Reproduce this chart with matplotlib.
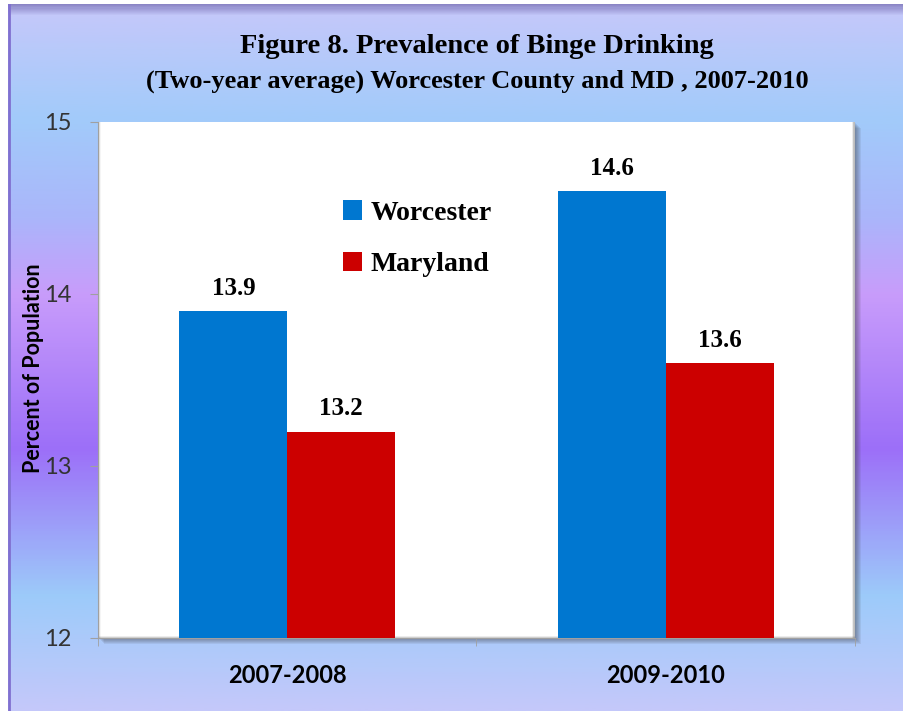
import matplotlib
matplotlib.use("Agg")
import matplotlib.pyplot as plt
import numpy as np
from matplotlib.colors import LinearSegmentedColormap
from matplotlib.patches import Rectangle

# datos
periodos = ["2007-2008", "2009-2010"]
worcester = [13.9, 14.6]
maryland = [13.2, 13.6]
series = ["Worcester", "Maryland"]
y_ticks = [12, 13, 14, 15]

azul = "#0077D0"
rojo = "#CC0000"
serif = ["Liberation Serif", "DejaVu Serif"]
sans = ["Lato", "DejaVu Sans"]

fig = plt.figure(figsize=(9.04, 7.11), dpi=100)
fig.patch.set_facecolor("white")

# fondo degradado del grafico
fondo = fig.add_axes([8 / 904, 0, 1 - 8 / 904, 1 - 4 / 711], zorder=0)
fondo.set_axis_off()
cmap = LinearSegmentedColormap.from_list("fondo", [
    (0.00, "#C6C8FA"),
    (0.16, "#A2CBFA"),
    (0.30, "#AAB6FA"),
    (0.41, "#C89CFB"),
    (0.63, "#9C6FF8"),
    (0.84, "#9DCBFA"),
    (1.00, "#C4C8FA"),
])
grad = np.linspace(0, 1, 400).reshape(-1, 1)
fondo.imshow(grad, aspect="auto", cmap=cmap, extent=[0, 1, 0, 1], origin="upper")
# sombra superior y borde izquierdo
for i in range(10):
    fondo.axhspan(1 - (i + 1) * 0.0016, 1 - i * 0.0016, color="#5A4E9A", alpha=0.55 * (1 - i / 10), lw=0)
fondo.axvline(0.001, color="#8070D0", lw=2)
fondo.set_xlim(0, 1)
fondo.set_ylim(0, 1)

# area de trazado
l, b, w, h = 98 / 904, 1 - 638 / 711, 757 / 904, 516 / 711
for i in range(6):
    d = (i + 1) / 904
    fig.patches.append(Rectangle((l + d, b - d * 904 / 711), w, h, transform=fig.transFigure,
                                 facecolor="#404040", alpha=0.09, lw=0, zorder=1))
ax = fig.add_axes([l, b, w, h], zorder=2)
ax.set_facecolor("white")

x = np.arange(len(periodos))
ancho = 0.285
b1 = ax.bar(x - ancho / 2, worcester, ancho, color=azul, label=series[0], zorder=3)
b2 = ax.bar(x + ancho / 2, maryland, ancho, color=rojo, label=series[1], zorder=3)

for barras in (b1, b2):
    for r in barras:
        ax.annotate(f"{r.get_height():.1f}", (r.get_x() + r.get_width() / 2, r.get_height()),
                    xytext=(0, 8), textcoords="offset points", ha="center", va="bottom",
                    fontsize=18, fontweight="bold", family=serif)

# sombra interior en los bordes
for i in range(5):
    a = 0.12 * (1 - i / 5)
    ax.axvline(-0.5 + i * 0.0015, color="#606060", alpha=a, lw=1.2, zorder=1)
    ax.axhline(12 + i * 0.002, color="#606060", alpha=a, lw=1.2, zorder=1)
    ax.axvline(1.5 - i * 0.0015, color="#606060", alpha=a * 2, lw=1.2, zorder=1)

ax.set_xlim(-0.5, 1.5)
ax.set_ylim(12, 15)
ax.set_yticks(y_ticks)
ax.set_yticklabels([str(t) for t in y_ticks], fontsize=17, family=sans, color="#333333")
ax.set_xticks(x)
ax.set_xticklabels(periodos, fontsize=17, fontweight="bold", family=sans)
ax.set_xticks([-0.5, 0.5, 1.5], minor=True)
ax.tick_params(axis="x", which="major", length=0, pad=19)
ax.tick_params(axis="x", which="minor", length=6, color="#A0A0A0", direction="out")
ax.tick_params(axis="y", length=6, color="#A0A0A0", pad=13)
for s in ["top", "right"]:
    ax.spines[s].set_visible(False)
for s in ["left", "bottom"]:
    ax.spines[s].set_color("#A0A0A0")

ax.set_ylabel("Percent of Population", fontsize=15.5, fontweight="bold", family=sans)
ax.yaxis.set_label_coords(-0.071, 0.523)

ley = ax.legend(loc="upper left", bbox_to_anchor=(0.29, 0.897), frameon=False,
                prop={"family": serif, "weight": "bold", "size": 20},
                handlelength=0.7, handleheight=0.7, handletextpad=0.3, labelspacing=0.95)

fig.text(0.528, 0.934, "Figure 8. Prevalence of Binge Drinking", ha="center", va="center",
         fontsize=20.5, fontweight="bold", family=serif)
fig.text(0.528, 0.885, "(Two-year average) Worcester County and MD , 2007-2010", ha="center",
         va="center", fontsize=19, fontweight="bold", family=serif)

fig.savefig("out.png", dpi=100)
